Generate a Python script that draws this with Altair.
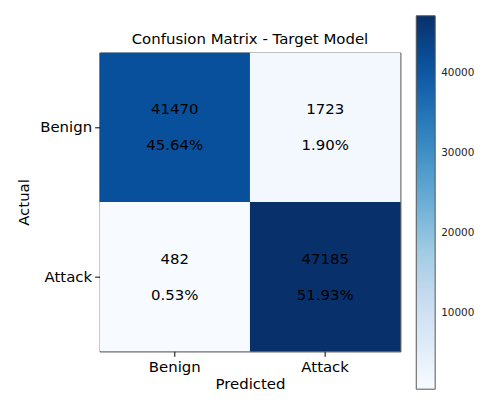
import altair as alt
import pandas as pd
import numpy as np

labels = ["Benign", "Attack"]
actual = ["Benign", "Benign", "Attack", "Attack"]
predicted = ["Benign", "Attack", "Benign", "Attack"]
counts = [41470, 1723, 482, 47185]
pct_labels = ["45.64%", "1.90%", "0.53%", "51.93%"]
legend_ticks = [10000, 20000, 30000, 40000]

# matplotlib "Blues" colormap stops
blues = ["#f7fbff", "#deebf7", "#c6dbef", "#9ecae1", "#6baed6",
         "#4292c6", "#2171b5", "#08519c", "#08306b"]

df = pd.DataFrame({"Actual": actual, "Predicted": predicted,
                   "Count": counts, "Pct": pct_labels})

cmin, cmax = min(counts), max(counts)
stops = list(np.linspace(cmin, cmax, len(blues)))

FONT = "DejaVu Sans"

base = alt.Chart(df).encode(
    x=alt.X("Predicted:N", sort=labels, title="Predicted",
            axis=alt.Axis(labelAngle=0, domain=False, tickSize=5, labelPadding=3,
                          titlePadding=2)),
    y=alt.Y("Actual:N", sort=labels, title="Actual",
            axis=alt.Axis(domain=False, tickSize=5, labelPadding=3, titlePadding=8)),
)

rect = base.mark_rect().encode(
    color=alt.Color("Count:Q",
                    scale=alt.Scale(domain=stops, range=blues),
                    legend=alt.Legend(orient="none", legendX=318, legendY=-37,
                                      direction="vertical", title=None,
                                      gradientLength=375, gradientThickness=19,
                                      gradientStrokeColor="#555", gradientStrokeWidth=1,
                                      values=legend_ticks, labelFontSize=10.5,
                                      labelFontWeight="normal",
                                      labelOffset=6, labelColor="#222",
                                      labelFont=FONT, format="d"))
)

t1 = base.mark_text(dy=-18, fontSize=15, font=FONT, color="#000").encode(
    text=alt.Text("Count:Q", format="d"))
t2 = base.mark_text(dy=18, fontSize=15, font=FONT, color="#000").encode(
    text="Pct:N")

chart = alt.layer(rect, t1, t2).properties(
    width=302, height=300,
    title=alt.TitleParams("Confusion Matrix - Target Model", fontSize=15,
                          font=FONT, fontWeight="normal", color="#000", offset=-31),
    autosize=alt.AutoSizeParams(type="none"),
    padding={"left": 92, "top": 44, "right": 76, "bottom": 41},
).configure_view(stroke="#222", strokeWidth=1).configure_axis(
    labelFont=FONT, titleFont=FONT, labelFontSize=15, titleFontSize=15,
    labelColor="#000", titleColor="#000", titleFontWeight="normal",
    tickColor="#000", grid=False,
)

chart.save("out.html", embed_options={"renderer": "svg", "actions": False})
